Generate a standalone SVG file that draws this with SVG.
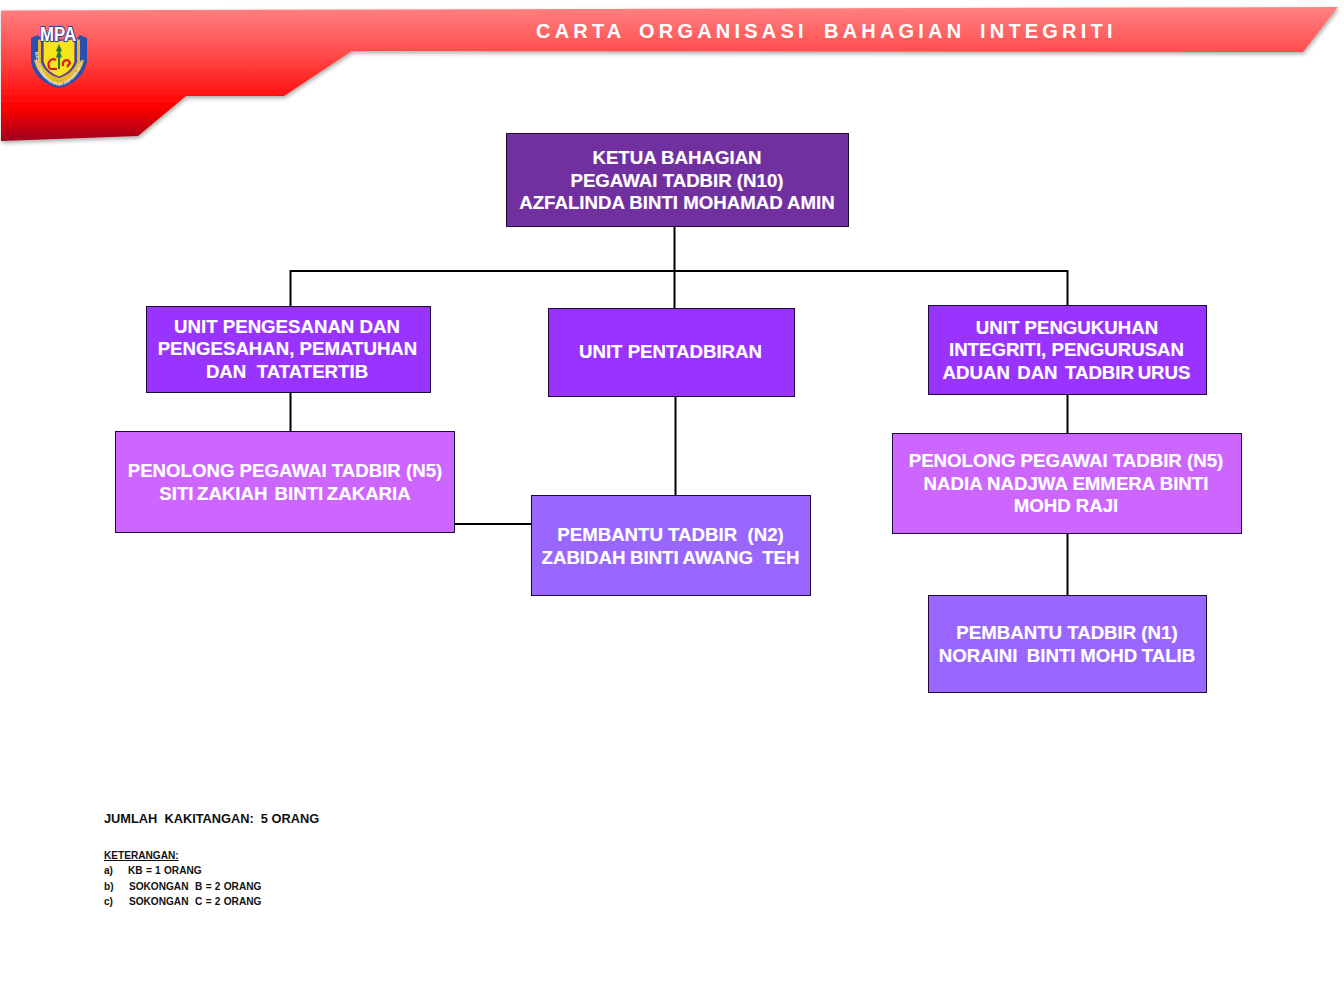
<svg xmlns="http://www.w3.org/2000/svg" xmlns:xlink="http://www.w3.org/1999/xlink" width="1344" height="1008" viewBox="0 0 1344 1008">
<style>
text{font-family:"Liberation Sans",Arial,sans-serif}
.t{font-size:18.65px;font-weight:bold;fill:#fff;text-anchor:middle;stroke:#fff;stroke-width:.2px}
.box{stroke:#1c0a33;stroke-width:1}
.dark{fill:#7030a0}.unit{fill:#9933ff}.pen{fill:#cc66ff}.pem{fill:#9966ff}
.ln{fill:none;stroke:#000;stroke-width:2}
.k{font-size:12.8px;font-weight:bold;fill:#111}
.s{font-size:10.1px;font-weight:bold;fill:#111;word-spacing:.5px}
</style>
<defs>
<linearGradient id="red" gradientUnits="userSpaceOnUse" x1="0" y1="8" x2="0" y2="141">
<stop offset="0" stop-color="#ff8080"/><stop offset=".35" stop-color="#ff4a4a"/><stop offset=".75" stop-color="#ff0000"/><stop offset=".85" stop-color="#d80008"/><stop offset="1" stop-color="#a00020"/>
</linearGradient>
<filter id="sh" x="-2%" y="-10%" width="104%" height="125%"><feDropShadow dx="1" dy="2" stdDeviation="2" flood-color="#000" flood-opacity=".35"/></filter>
<path id="arc" d="M35 50 C36 72 46 84 59 86 C72 84 83 72 84 50"/>
</defs>
<rect width="1344" height="1008" fill="#fff"/>
<g id="banner">
<path d="M1 10.500 L1338 7 L1303 52 L352 51 L284 96 L186 96 L138 136 L1 141 Z" fill="url(#red)" filter="url(#sh)"/>
<text y="38" font-size="20px" font-weight="bold" fill="#fff" letter-spacing="4.200"><tspan x="536">CARTA</tspan><tspan x="639">ORGANISASI</tspan><tspan x="824">BAHAGIAN</tspan><tspan x="980">INTEGRITI</tspan></text>
</g>
<g id="logo">
<path d="M31 38 L38 35 L44 42 L74 42 L80 35 L87 38 L87 62 C84 77 72 85 59 88 C46 85 34 77 31 62 Z" fill="#2a4fb0"/>
<path d="M34 60 C37 74 48 82 59 85 C70 82 81 74 84 60 L81 60 C78 71 68 78 59 81 C50 78 40 71 37 60 Z" fill="#e8b828"/>
<path d="M38 40 L41 39 L41 62 C44 71 52 76 59 78 L59 81 C50 79 41 73 38 62 Z" fill="#e8b828"/>
<path d="M80 40 L77 39 L77 62 C74 71 66 76 59 78 L59 81 C68 79 77 73 80 62 Z" fill="#e8b828"/>
<path d="M43 38 C50 41 68 41 75 38 L75 62 C72 71 65 75 59 77 C53 75 46 71 43 62 Z" fill="#f7e41c" stroke="#7a3a8a" stroke-width="1.300"/>
<text x="58" y="41" font-size="21px" font-weight="bold" fill="#fff" stroke="#1f3f9f" stroke-width="2" paint-order="stroke" text-anchor="middle" textLength="36" lengthAdjust="spacingAndGlyphs">MPA</text>
<path d="M59 44 L62 51 L60 52 L62 57 L60 58 L60 69 L58 69 L58 58 L56 57 L58 52 L56 51 Z" fill="#2f7a3a"/>
<path d="M50 69 C46 63 51 57 56 60 M50 69 L57 69 M63 66 C62 60 68 58 70 63 L67 67" fill="none" stroke="#d81e20" stroke-width="2.200"/>
<text font-size="4.200px" font-weight="bold" fill="#e8e8f0"><textPath xlink:href="#arc" startOffset="2%">MAJLIS PERBANDARAN AMPANG JAYA</textPath></text>
</g>
<g id="connectors">
<path class="ln" d="M674.500 227V308M290.500 306V271H1067.500V305"/>
<path class="ln" d="M290.500 392V431M675.500 396V495M1067.500 394V433M1067.500 533V595M455 524H531"/>
</g>
<g id="n-ketua">
<rect class="box dark" x="506.500" y="133.500" width="342" height="93"/>
<text class="t" x="677" y="163.500">KETUA BAHAGIAN</text>
<text class="t" x="677" y="186.500">PEGAWAI TADBIR (N10)</text>
<text class="t" x="677" y="208.500">AZFALINDA BINTI MOHAMAD AMIN</text>
</g>
<g id="n-unit1">
<rect class="box unit" x="146.500" y="306.500" width="284" height="86"/>
<text class="t" x="287" y="332.500">UNIT PENGESANAN DAN</text>
<text class="t" x="287.500" y="355">PENGESAHAN, PEMATUHAN</text>
<text class="t" x="287" y="377.500" xml:space="preserve">DAN  TATATERTIB</text>
</g>
<g id="n-unit2">
<rect class="box unit" x="548.500" y="308.500" width="246" height="88"/>
<text class="t" x="670.500" y="357.500">UNIT PENTADBIRAN</text>
</g>
<g id="n-unit3">
<rect class="box unit" x="928.500" y="305.500" width="278" height="89"/>
<text class="t" x="1067" y="333.500">UNIT PENGUKUHAN</text>
<text class="t" x="1066.500" y="356">INTEGRITI, PENGURUSAN</text>
<text class="t" x="1066.500" y="378.500" xml:space="preserve" style="word-spacing:-1.500px">ADUAN  DAN  TADBIR URUS</text>
</g>
<g id="n-pen1">
<rect class="box pen" x="115.500" y="431.500" width="339" height="101"/>
<text class="t" x="285" y="476.500">PENOLONG PEGAWAI TADBIR (N5)</text>
<text class="t" x="285" y="499.500" xml:space="preserve" style="word-spacing:-1.600px">SITI ZAKIAH  BINTI ZAKARIA</text>
</g>
<g id="n-pem2">
<rect class="box pem" x="531.500" y="495.500" width="279" height="100"/>
<text class="t" x="670.500" y="540.500" xml:space="preserve">PEMBANTU TADBIR  (N2)</text>
<text class="t" x="670.500" y="563.500" xml:space="preserve" style="word-spacing:-.6px">ZABIDAH BINTI AWANG  TEH</text>
</g>
<g id="n-pen3">
<rect class="box pen" x="892.500" y="433.500" width="349" height="100"/>
<text class="t" x="1066" y="466.500">PENOLONG PEGAWAI TADBIR (N5)</text>
<text class="t" x="1066" y="489.500">NADIA NADJWA EMMERA BINTI</text>
<text class="t" x="1066" y="511.500">MOHD RAJI</text>
</g>
<g id="n-pem1">
<rect class="box pem" x="928.500" y="595.500" width="278" height="97"/>
<text class="t" x="1067" y="638.500">PEMBANTU TADBIR (N1)</text>
<text class="t" x="1067" y="661.500" xml:space="preserve" style="word-spacing:-.5px">NORAINI  BINTI MOHD TALIB</text>
</g>
<g id="notes">
<text class="k" x="104" y="823" xml:space="preserve">JUMLAH  KAKITANGAN:  5 ORANG</text>
<text class="s" x="104" y="859" text-decoration="underline">KETERANGAN:</text>
<text class="s" x="104" y="874">a)</text><text class="s" x="128" y="874">KB = 1 ORANG</text>
<text class="s" x="104" y="890">b)</text><text class="s" x="129" y="890" xml:space="preserve">SOKONGAN  B = 2 ORANG</text>
<text class="s" x="104" y="905">c)</text><text class="s" x="129" y="905" xml:space="preserve">SOKONGAN  C = 2 ORANG</text>
</g>
</svg>
